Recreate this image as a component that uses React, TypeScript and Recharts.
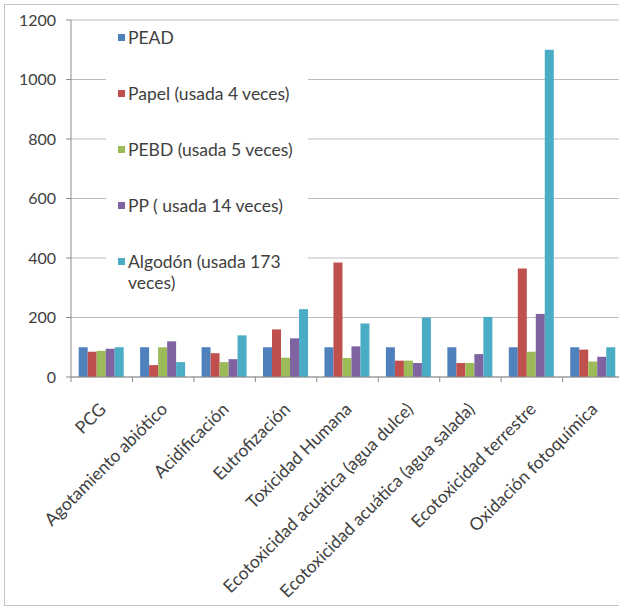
import React from 'react';
import { BarChart, Bar, XAxis, YAxis, CartesianGrid } from 'recharts';

const categories = [
  'PCG',
  'Agotamiento abiótico',
  'Acidificación',
  'Eutrofización',
  'Toxicidad Humana',
  'Ecotoxicidad acuática (agua dulce)',
  'Ecotoxicidad acuática (agua salada)',
  'Ecotoxicidad terrestre',
  'Oxidación fotoquímica',
];
const pead = [100, 100, 100, 100, 100, 100, 100, 100, 100];
const papel = [85, 40, 80, 160, 385, 55, 47, 365, 92];
const pebd = [88, 100, 50, 65, 64, 55, 47, 85, 52];
const pp = [95, 120, 60, 130, 103, 47, 77, 212, 68];
const algodon = [100, 50, 140, 228, 180, 200, 202, 1100, 100];
const yTicks = [0, 200, 400, 600, 800, 1000, 1200];

const seriesNames = [
  'PEAD',
  'Papel (usada 4 veces)',
  'PEBD (usada 5 veces)',
  'PP ( usada 14 veces)',
  'Algodón (usada 173 veces)',
];
const seriesKeys = ['pead', 'papel', 'pebd', 'pp', 'algodon'];
const COLORS = ['#4F81BD', '#C0504D', '#9BBB59', '#8064A2', '#4BACC6'];

const data = categories.map((name, i) => ({
  name,
  pead: pead[i],
  papel: papel[i],
  pebd: pebd[i],
  pp: pp[i],
  algodon: algodon[i],
}));

const FONT = 'Lato, "Liberation Sans", sans-serif';
const TEXT = '#404040';
const AXIS = '#8c8c8c';
const BAND = 61.4;

const CatTick = (props: any) => {
  const { x, y, payload } = props;
  return (
    <g transform={`translate(${x},${y})`}>
      <line x1={-BAND / 2} x2={-BAND / 2} y1={0} y2={5} stroke={AXIS} />
      <text
        x={0}
        y={0}
        transform="translate(1,29) rotate(-45)"
        textAnchor="end"
        dy="0.35em"
        fill={TEXT}
        fontSize={17.5}
        fontFamily={FONT}
      >
        {payload.value}
      </text>
    </g>
  );
};

const LegendBox = () => (
  <div
    style={{
      position: 'absolute',
      left: 101,
      top: 20,
      width: 202,
      height: 272,
      background: '#fff',
      fontFamily: FONT,
      fontSize: 17.5,
      color: TEXT,
    }}
  >
    {seriesNames.map((n, i) => (
      <div
        key={n}
        style={{
          position: 'absolute',
          left: 12,
          top: 2 + i * 56,
          display: 'flex',
          alignItems: 'flex-start',
          lineHeight: '21px',
          width: 190,
        }}
      >
        <span
          style={{
            display: 'inline-block',
            width: 7,
            height: 7,
            background: COLORS[i],
            marginTop: 7,
            marginRight: 3,
            flex: 'none',
          }}
        />
        <span style={{ width: i === 4 ? 165 : 190 }}>{n}</span>
      </div>
    ))}
  </div>
);

export default function App() {
  return (
    <>
      <style>{'body{margin:0;overflow:hidden;background:#fff}'}</style>
      <div
        style={{
          position: 'relative',
          margin: 4,
          width: 638,
          height: 600,
          border: '1px solid #c4c4c4',
          background: '#fff',
        }}
      >
        <BarChart
          width={638}
          height={600}
          data={data}
          margin={{ top: 15, right: 19, bottom: 0, left: 0 }}
          barCategoryGap="12.5%"
          barGap={0}
        >
          <CartesianGrid vertical={false} stroke="#bdbdbd" />
          <XAxis
            dataKey="name"
            interval={0}
            height={228}
            tickLine={false}
            tickSize={0}
            tickMargin={0}
            stroke={AXIS}
            tick={<CatTick />}
          />
          <YAxis
            domain={[0, 1200]}
            ticks={yTicks}
            width={66}
            tickSize={5}
            tickMargin={10}
            stroke={AXIS}
            tick={{ fill: TEXT, fontSize: 16, fontFamily: FONT }}
          />
          {seriesKeys.map((k, i) => (
            <Bar key={k} dataKey={k} name={seriesNames[i]} fill={COLORS[i]} isAnimationActive={false} />
          ))}
        </BarChart>
        <LegendBox />
      </div>
    </>
  );
}
